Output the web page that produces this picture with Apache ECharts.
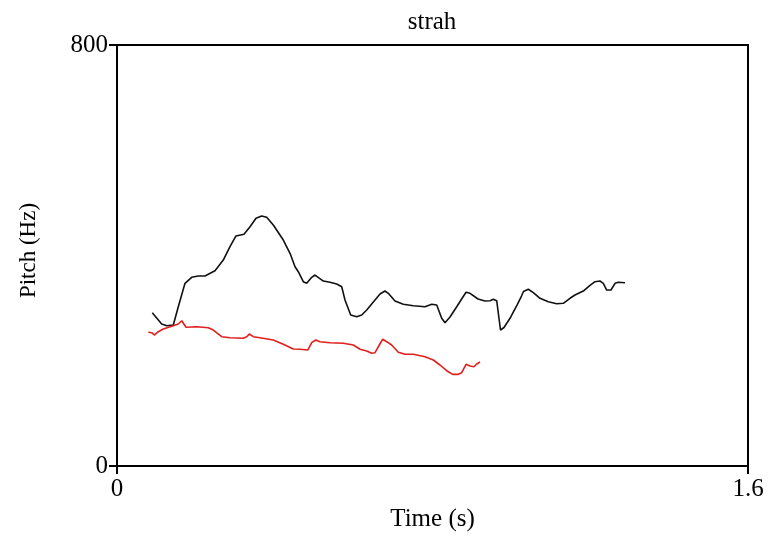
<!DOCTYPE html>
<html>
<head>
<meta charset="utf-8">
<script src="https://cdn.jsdelivr.net/npm/echarts@6/dist/echarts.min.js"></script>
<style>
  html, body { margin: 0; padding: 0; background: #fff; }
  #chart { width: 768px; height: 540px; }
</style>
</head>
<body>
<div id="chart"></div>
<script>
// Pitch contour of "strah": time (s) and pitch (Hz) samples for two tracks
const blackTime = [0.0895, 0.1133, 0.1260, 0.1428, 0.1554, 0.1724, 0.1894, 0.2062, 0.2231, 0.2485,
  0.2695, 0.2865, 0.3017, 0.3220, 0.3373, 0.3525, 0.3669, 0.3796, 0.3963, 0.4217,
  0.4387, 0.4514, 0.4597, 0.4724, 0.4810, 0.4937, 0.5021, 0.5231, 0.5401, 0.5571,
  0.5698, 0.5781, 0.5926, 0.6078, 0.6205, 0.6332, 0.6458, 0.6669, 0.6796, 0.6879,
  0.7049, 0.7260, 0.7513, 0.7810, 0.7980, 0.8107, 0.8233, 0.8317, 0.8444, 0.8614,
  0.8723, 0.8850, 0.8951, 0.9154, 0.9331, 0.9458, 0.9542, 0.9628, 0.9724, 0.9813,
  0.9965, 1.0143, 1.0257, 1.0307, 1.0429, 1.0556, 1.0726, 1.0936, 1.1149, 1.1317,
  1.1486, 1.1613, 1.1824, 1.1994, 1.2120, 1.2247, 1.2331, 1.2417, 1.2526, 1.2628,
  1.2711, 1.2881];
const blackPitch = [291.3, 269.8, 266.6, 267.9, 302.7, 347.2, 358.6, 361.0, 361.0, 371.1,
  391.4, 416.7, 437.1, 440.3, 454.7, 470.7, 475.1, 472.6, 458.0, 429.4,
  404.2, 378.7, 369.2, 350.2, 347.2, 358.6, 362.9, 351.5, 349.1, 345.8,
  340.7, 315.4, 286.9, 283.7, 286.9, 296.4, 307.8, 326.8, 332.5, 328.2,
  313.5, 307.3, 304.6, 302.7, 307.3, 305.9, 280.7, 272.3, 283.1, 302.7,
  315.4, 330.1, 328.2, 317.3, 313.5, 314.1, 316.8, 314.1, 258.4, 263.2,
  280.7, 305.9, 323.0, 331.6, 335.8, 329.3, 318.7, 312.2, 308.4, 309.2,
  318.7, 324.9, 332.5, 343.4, 350.2, 351.5, 347.2, 334.4, 334.4, 347.2,
  349.1, 348.3];

const redTime = [0.0794, 0.0880, 0.0946, 0.1047, 0.1174, 0.1428, 0.1554, 0.1641, 0.1750, 0.2021,
  0.2315, 0.2442, 0.2655, 0.2865, 0.3203, 0.3289, 0.3355, 0.3456, 0.3626, 0.3963,
  0.4217, 0.4470, 0.4640, 0.4836, 0.4937, 0.5038, 0.5147, 0.5401, 0.5738, 0.5992,
  0.6162, 0.6332, 0.6458, 0.6542, 0.6651, 0.6737, 0.6839, 0.6965, 0.7133, 0.7303,
  0.7513, 0.7810, 0.8020, 0.8190, 0.8360, 0.8512, 0.8654, 0.8740, 0.8850, 0.8951,
  0.9052, 0.9121, 0.9204];
const redPitch = [254.1, 253.3, 248.9, 255.2, 260.3, 266.6, 269.8, 276.1, 263.6, 264.7,
  262.8, 258.4, 245.7, 243.8, 242.7, 245.7, 250.8, 245.7, 243.8, 239.4,
  231.3, 222.3, 221.8, 220.4, 234.3, 239.4, 236.2, 234.3, 233.2, 229.9,
  221.8, 218.5, 214.2, 215.3, 229.9, 240.8, 236.2, 229.9, 216.1, 212.3,
  212.3, 207.7, 201.4, 191.9, 181.1, 174.2, 174.2, 177.3, 193.3, 190.0,
  188.7, 193.8, 197.6];

const timeTicks = [0, 1.6];
const pitchTicks = [0, 800];

const pair = (xs, ys) => xs.map((x, i) => [x, ys[i]]);
const FONT = '"Liberation Serif", "Times New Roman", serif';

const chart = echarts.init(document.getElementById('chart'), null, { renderer: 'canvas' });
chart.setOption({
  animation: false,
  backgroundColor: '#fff',
  title: {
    text: 'strah',
    left: 427, top: 5, textAlign: 'center',
    textStyle: { fontFamily: FONT, fontSize: 25, fontWeight: 'normal', color: '#000' }
  },
  grid: {
    left: 117, right: 20, top: 45, bottom: 74,
    show: true, borderColor: '#000', borderWidth: 2, backgroundColor: 'transparent'
  },
  xAxis: {
    type: 'value',
    min: timeTicks[0], max: timeTicks[1], interval: timeTicks[1] - timeTicks[0],
    name: 'Time (s)', nameLocation: 'middle', nameGap: 38,
    nameTextStyle: { fontFamily: FONT, fontSize: 25, color: '#000' },
    axisLine: { show: true, lineStyle: { color: '#000', width: 2 } },
    axisTick: { show: true, length: 8, lineStyle: { color: '#000', width: 2 } },
    axisLabel: {
      fontFamily: FONT, fontSize: 25, color: '#000', margin: 11,
      formatter: v => (timeTicks.includes(v) ? String(v) : '')
    },
    splitLine: { show: false }
  },
  yAxis: {
    type: 'value',
    min: pitchTicks[0], max: pitchTicks[1], interval: pitchTicks[1] - pitchTicks[0],
    name: 'Pitch (Hz)', nameLocation: 'middle', nameGap: 77, nameRotate: 90,
    nameTextStyle: { fontFamily: FONT, fontSize: 23, color: '#000', padding: [0, 0, 0, 10] },
    axisLine: { show: true, lineStyle: { color: '#000', width: 2 } },
    axisTick: { show: true, length: 8, lineStyle: { color: '#000', width: 2 } },
    axisLabel: { fontFamily: FONT, fontSize: 25, color: '#000', margin: 9 },
    splitLine: { show: false }
  },
  series: [
    {
      type: 'line', data: pair(blackTime, blackPitch),
      showSymbol: false, symbol: 'none', smooth: false,
      lineStyle: { color: '#111', width: 1.6 }
    },
    {
      type: 'line', data: pair(redTime, redPitch),
      showSymbol: false, symbol: 'none', smooth: false,
      lineStyle: { color: '#e0201e', width: 1.6 }
    }
  ]
});
</script>
</body>
</html>
